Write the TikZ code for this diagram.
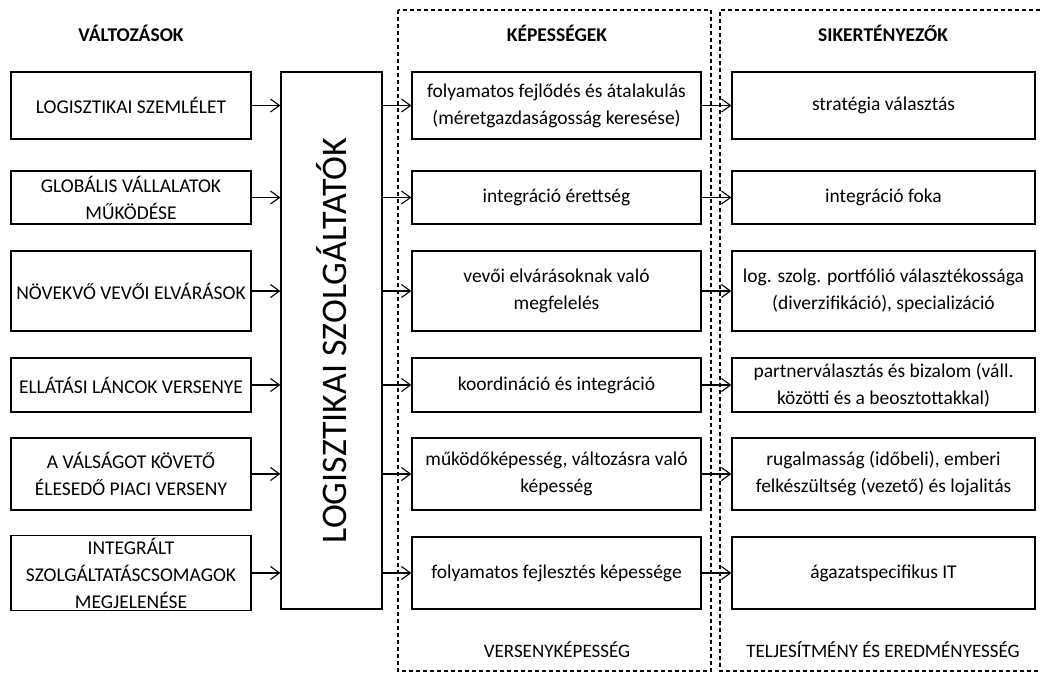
\documentclass[tikz,border=0pt]{standalone}
\usepackage{fontspec}
\setmainfont{Carlito}
\usepackage{tikz}
\usetikzlibrary{arrows.meta,positioning}
\tikzstyle{line} = [draw, line width=1.1pt, -{Straight Barb[length=9pt,width=13pt,line width=1.1pt]}]
\tikzstyle{box} = [draw, line width=1.2pt, align=center, inner sep=2pt, font=\fontsize{19.5}{27}\selectfont]
\tikzstyle{zone} = [draw, line width=1.1pt, dash pattern=on 4pt off 3pt]
\tikzstyle{head} = [font=\fontsize{19.5}{22}\selectfont\bfseries]
\tikzstyle{foot} = [font=\fontsize{19}{22}\selectfont]

\begin{document}
\begin{tikzpicture}[x=1pt,y=-1pt]
		\useasboundingbox (0,0) rectangle (1040,673);
		
		% dashed zones
		\draw[zone] (398,10) rectangle (711,671); %capabilities zone
		\draw[zone] (1040,10) -- (720,10) -- (720,671) -- (1040,671); %success factors zone
		
		% headers
		\node[head] (hchg) at (131,33) {VÁLTOZÁSOK};
		\node[head] (hcap) at (557,33) {KÉPESSÉGEK};
		\node[head] (hsuc) at (883,33) {SIKERTÉNYEZŐK};
		\node[foot] (fcap) at (557,650) {VERSENYKÉPESSÉG};
		\node[foot] (fsuc) at (883,650) {TELJESÍTMÉNY ÉS EREDMÉNYESSÉG};
		
		% changes, left column
		\node[box, minimum width=240pt, minimum height=67pt] (c1) at (131,105.5) {LOGISZTIKAI SZEMLÉLET};
		\node[box, minimum width=240pt, minimum height=53pt] (c2) at (131,197.5) {GLOBÁLIS VÁLLALATOK\\MŰKÖDÉSE};
		\node[box, minimum width=240pt, minimum height=80pt] (c3) at (131,291) {NÖVEKVŐ VEVŐI ELVÁRÁSOK};
		\node[box, minimum width=240pt, minimum height=54pt] (c4) at (131,385) {ELLÁTÁSI LÁNCOK VERSENYE};
		\node[box, minimum width=240pt, minimum height=72pt] (c5) at (131,474) {A VÁLSÁGOT KÖVETŐ\\ÉLESEDŐ PIACI VERSENY};
		\node[box, minimum width=240pt, minimum height=72pt] (c6) at (131,573) {INTEGRÁLT\\SZOLGÁLTATÁSCSOMAGOK\\MEGJELENÉSE};
		
		% logistics providers
		\node[box, minimum width=101pt, minimum height=537pt] (lsp) at (331.5,340.5) {};
		\node[font=\fontsize{36}{40}\selectfont, rotate=90] (lsptxt) at (lsp.center) {LOGISZTIKAI SZOLGÁLTATÓK};
		
		% capabilities, middle column
		\node[box, minimum width=289pt, minimum height=67pt] (k1) at (556.5,105.5) {folyamatos fejlődés és átalakulás\\(méretgazdaságosság keresése)};
		\node[box, minimum width=289pt, minimum height=53pt] (k2) at (556.5,197.5) {integráció érettség};
		\node[box, minimum width=289pt, minimum height=80pt] (k3) at (556.5,291) {vevői elvárásoknak való\\megfelelés};
		\node[box, minimum width=289pt, minimum height=54pt] (k4) at (556.5,385) {koordináció és integráció};
		\node[box, minimum width=289pt, minimum height=72pt] (k5) at (556.5,474) {működőképesség, változásra való\\képesség};
		\node[box, minimum width=289pt, minimum height=72pt] (k6) at (556.5,573) {folyamatos fejlesztés képessége};
		
		% success factors, right column
		\node[box, minimum width=303pt, minimum height=67pt] (s1) at (883.5,105.5) {stratégia választás};
		\node[box, minimum width=303pt, minimum height=53pt] (s2) at (883.5,197.5) {integráció foka};
		\node[box, minimum width=303pt, minimum height=80pt] (s3) at (883.5,291) {log. szolg. portfólió választékossága\\(diverzifikáció), specializáció};
		\node[box, minimum width=303pt, minimum height=54pt] (s4) at (883.5,385) {partnerválasztás és bizalom (váll.\\közötti és a beosztottakkal)};
		\node[box, minimum width=303pt, minimum height=72pt] (s5) at (883.5,474) {rugalmasság (időbeli), emberi\\felkészültség (vezető) és lojalitás};
		\node[box, minimum width=303pt, minimum height=72pt] (s6) at (883.5,573) {ágazatspecifikus IT};
		
		% arrows
		\foreach \i in {1,...,6} {
			\draw[line] (c\i.east) -- (lsp.west |- c\i.east); %change to providers
			\draw[line] (lsp.east |- k\i.west) -- (k\i.west); %providers to capability
			\draw[line] (k\i.east) -- (s\i.west); %capability to success factor
		}
		
\end{tikzpicture}
\end{document}
